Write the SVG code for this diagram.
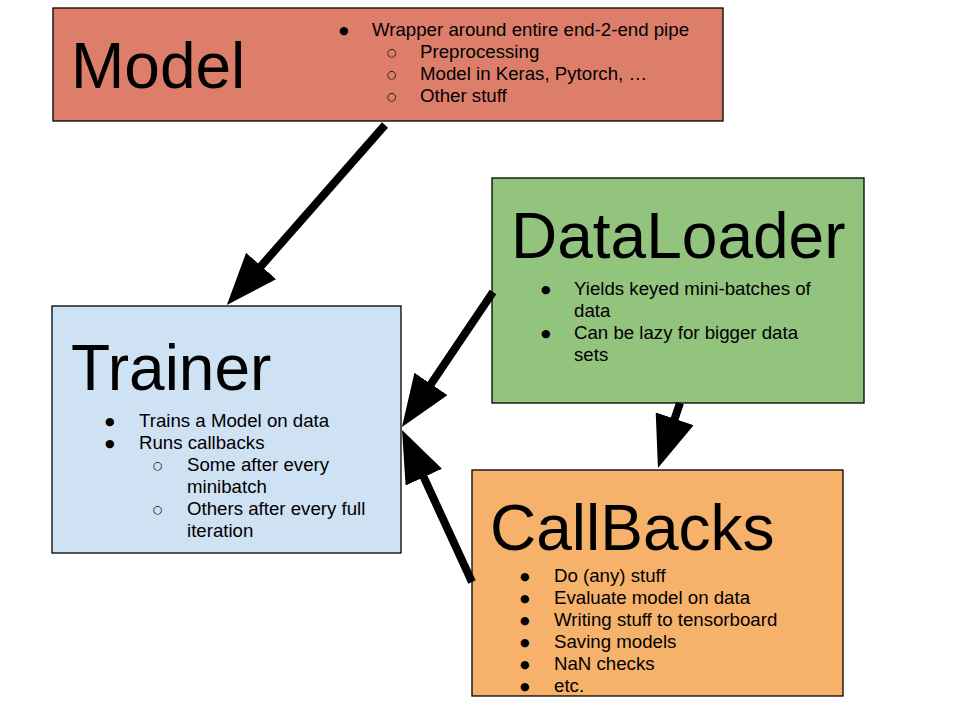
<svg xmlns="http://www.w3.org/2000/svg" width="960" height="720" viewBox="0 0 960 720">
<defs>
<marker id="ah" markerUnits="userSpaceOnUse" markerWidth="52" markerHeight="40" refX="26" refY="20" orient="auto" viewBox="0 0 52 40">
<path d="M0,0 L52,20 L0,40 z" fill="#000"/>
</marker>
<style>
.box{stroke:#000;stroke-width:1.3}
.h{font-family:"Liberation Sans",Arial,sans-serif;font-size:64px;fill:#000}
.t{font-family:"Liberation Sans",Arial,sans-serif;font-size:18.67px;fill:#000}
.b{font-family:"DejaVu Sans","Liberation Sans",sans-serif;font-size:11px;fill:#000}
.c{stroke:#000;stroke-width:8;fill:none;marker-end:url(#ah)}
</style>
</defs>
<rect width="960" height="720" fill="#fff"/>
<g id="model">
<rect class="box" x="53" y="8" width="670" height="113" fill="#dd7e6b"/>
<text class="h" x="71" y="88">Model</text>
<text class="b" x="339" y="34">●</text>
<text class="t" x="372" y="36">Wrapper around entire end-2-end pipe</text>
<text class="b" x="387" y="56">○</text>
<text class="t" x="420" y="58">Preprocessing</text>
<text class="b" x="387" y="78">○</text>
<text class="t" x="420" y="80">Model in Keras, Pytorch, …</text>
<text class="b" x="387" y="100">○</text>
<text class="t" x="420" y="102">Other stuff</text>
</g>
<g id="dataloader">
<rect class="box" x="492" y="178" width="372" height="225" fill="#93c47d"/>
<text class="h" x="511" y="258">DataLoader</text>
<text class="b" x="541" y="293">●</text>
<text class="t" x="574" y="295">Yields keyed mini-batches of</text>
<text class="t" x="574" y="317">data</text>
<text class="b" x="541" y="337">●</text>
<text class="t" x="574" y="339">Can be lazy for bigger data</text>
<text class="t" x="574" y="361">sets</text>
</g>
<g id="trainer">
<rect class="box" x="52" y="306" width="349" height="247" fill="#cfe2f3"/>
<text class="h" x="71" y="390">Trainer</text>
<text class="b" x="105" y="425">●</text>
<text class="t" x="139" y="427">Trains a Model on data</text>
<text class="b" x="105" y="447">●</text>
<text class="t" x="139" y="449">Runs callbacks</text>
<text class="b" x="153" y="469">○</text>
<text class="t" x="187" y="471">Some after every</text>
<text class="t" x="187" y="493">minibatch</text>
<text class="b" x="153" y="513">○</text>
<text class="t" x="187" y="515">Others after every full</text>
<text class="t" x="187" y="537">iteration</text>
</g>
<g id="callbacks">
<rect class="box" x="472" y="470" width="371" height="226" fill="#f6b26b"/>
<text class="h" x="490" y="550">CallBacks</text>
<text class="b" x="520" y="580">●</text>
<text class="t" x="554" y="582">Do (any) stuff</text>
<text class="b" x="520" y="602">●</text>
<text class="t" x="554" y="604">Evaluate model on data</text>
<text class="b" x="520" y="624">●</text>
<text class="t" x="554" y="626">Writing stuff to tensorboard</text>
<text class="b" x="520" y="646">●</text>
<text class="t" x="554" y="648">Saving models</text>
<text class="b" x="520" y="668">●</text>
<text class="t" x="554" y="670">NaN checks</text>
<text class="b" x="520" y="690">●</text>
<text class="t" x="554" y="692">etc.</text>
</g>
<g id="connectors">
<line class="c" x1="385" y1="125" x2="244" y2="285.5"/>
<line class="c" x1="493" y1="292" x2="416.5" y2="405.5"/>
<line class="c" x1="680" y1="403" x2="666.3" y2="443.4"/>
<line class="c" x1="472" y1="582" x2="412.9" y2="453.6"/>
</g>
</svg>
